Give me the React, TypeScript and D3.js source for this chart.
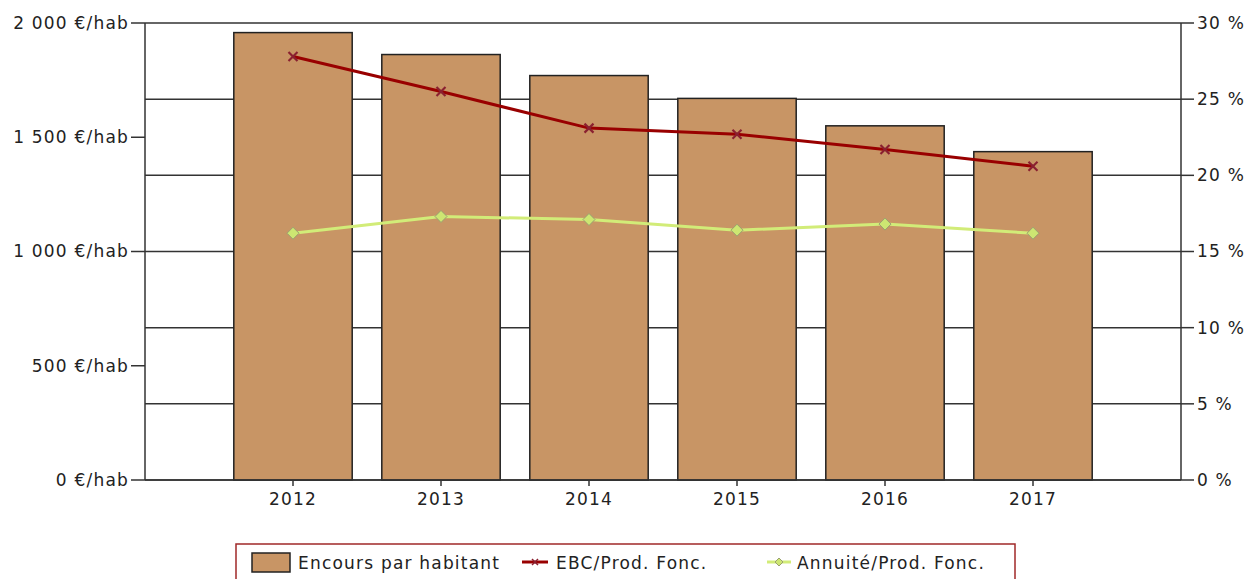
import React from "react";
import * as d3 from "d3";

const years = ["2012", "2013", "2014", "2015", "2016", "2017"];
const encours = [1958, 1862, 1770, 1670, 1550, 1437];
const ebc = [27.8, 25.5, 23.1, 22.7, 21.7, 20.6];
const annuite = [16.2, 17.3, 17.1, 16.4, 16.8, 16.2];
const leftTicks = [0, 500, 1000, 1500, 2000];
const rightTicks = [0, 5, 10, 15, 20, 25, 30];

const W = 1249;
const H = 579;
const L = 145, R = 1181, T = 23, B = 480;
const FONT = "'DejaVu Sans', Verdana, sans-serif";
const TXT = "#222";
const FS = 17;
const LS = 1.2;

export default function App() {
  const x = d3.scaleLinear().domain([0, years.length + 1]).range([L, R]);
  const step = x(1) - x(0);
  const bw = step * 0.8;
  const yL = d3.scaleLinear().domain([0, 2000]).range([B, T]);
  const yR = d3.scaleLinear().domain([0, 30]).range([B, T]);
  const fmtL = (v: number) => d3.format(",")(v).replace(/,/g, " ") + " €/hab";
  const line = (arr: number[]) =>
    d3.line<number>().x((_, i) => x(i + 1)).y((d) => yR(d))(arr) || "";

  return (
    <svg width={W} height={H} style={{ position: "absolute", left: 0, top: 0, background: "#fff" }} fontFamily={FONT}>
      {rightTicks.map((t) => (
        <line key={"g" + t} x1={L} x2={R} y1={yR(t)} y2={yR(t)} stroke="#333" strokeWidth={1.5} />
      ))}
      {encours.map((v, i) => (
        <rect key={"b" + i} x={x(i + 1) - bw / 2} y={yL(v)} width={bw} height={B - yL(v)}
          fill="#C89565" stroke="#222" strokeWidth={1.5} />
      ))}
      <line x1={L} x2={L} y1={T} y2={B} stroke="#333" strokeWidth={1.5} />
      <line x1={R} x2={R} y1={T} y2={B} stroke="#333" strokeWidth={1.5} />
      <line x1={L} x2={R} y1={B} y2={B} stroke="#333" strokeWidth={1.5} />
      {leftTicks.map((t) => (
        <g key={"l" + t}>
          <line x1={L - 14} x2={L} y1={yL(t)} y2={yL(t)} stroke="#333" strokeWidth={1.5} />
          <text x={L - 16} y={yL(t)} dy="0.35em" textAnchor="end" fontSize={FS} fill={TXT} letterSpacing={LS}>{fmtL(t)}</text>
        </g>
      ))}
      {rightTicks.map((t) => (
        <g key={"r" + t}>
          <line x1={R} x2={R + 13} y1={yR(t)} y2={yR(t)} stroke="#333" strokeWidth={1.5} />
          <text x={R + 16} y={yR(t)} dy="0.35em" textAnchor="start" fontSize={FS} fill={TXT} letterSpacing={LS}>{t + " %"}</text>
        </g>
      ))}
      {years.map((y, i) => (
        <g key={"x" + y}>
          <line x1={x(i + 1)} x2={x(i + 1)} y1={B} y2={B + 6} stroke="#333" strokeWidth={1.5} />
          <text x={x(i + 1)} y={B + 25} textAnchor="middle" fontSize={FS} fill={TXT} letterSpacing={LS}>{y}</text>
        </g>
      ))}
      <path d={line(ebc)} fill="none" stroke="#990000" strokeWidth={3} />
      {ebc.map((v, i) => {
        const cx = x(i + 1), cy = yR(v);
        return (
          <g key={"e" + i} stroke="#8a2030" strokeWidth={2.2}>
            <line x1={cx - 4.5} x2={cx + 4.5} y1={cy - 4.5} y2={cy + 4.5} />
            <line x1={cx - 4.5} x2={cx + 4.5} y1={cy + 4.5} y2={cy - 4.5} />
          </g>
        );
      })}
      <path d={line(annuite)} fill="none" stroke="#D2EC78" strokeWidth={3} />
      {annuite.map((v, i) => {
        const cx = x(i + 1), cy = yR(v);
        return (
          <path key={"a" + i} d={`M${cx},${cy - 6}L${cx + 6},${cy}L${cx},${cy + 6}L${cx - 6},${cy}Z`}
            fill="#CDE672" stroke="#9aa070" strokeWidth={1} />
        );
      })}
      <rect x={236} y={544} width={779} height={50} fill="#fff" stroke="#A02828" strokeWidth={1.5} />
      <rect x={252} y={553} width={38} height={19} fill="#C89565" stroke="#222" strokeWidth={1.5} />
      <text x={298} y={569} fontSize={FS} fill={TXT} letterSpacing={LS}>Encours par habitant</text>
      <line x1={522} x2={548} y1={562} y2={562} stroke="#990000" strokeWidth={3} />
      <g stroke="#8a2030" strokeWidth={1.5}>
        <line x1={532} x2={538} y1={559} y2={565} />
        <line x1={532} x2={538} y1={565} y2={559} />
      </g>
      <text x={556} y={569} fontSize={FS} fill={TXT} letterSpacing={LS}>EBC/Prod. Fonc.</text>
      <line x1={767} x2={791} y1={562} y2={562} stroke="#D2EC78" strokeWidth={3} />
      <path d="M779,558L783,562L779,566L775,562Z" fill="#CDE672" stroke="#9aa070" strokeWidth={1} />
      <text x={797} y={569} fontSize={FS} fill={TXT} letterSpacing={LS}>Annuité/Prod. Fonc.</text>
    </svg>
  );
}
